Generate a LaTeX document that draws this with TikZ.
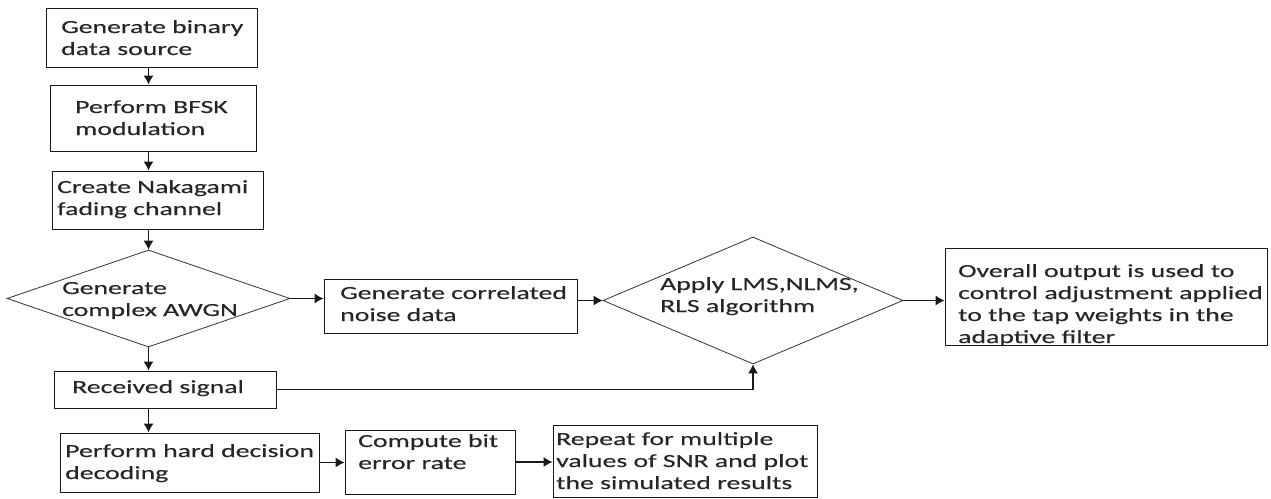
\documentclass[tikz,border=0pt]{standalone}
\usepackage{fontspec}
\setmainfont[FakeStretch=1.5,FakeBold=0.25]{Carlito}
\usetikzlibrary{shapes.geometric,arrows.meta}
\newcommand{\mlines}[1]{\begin{tabular}[t]{@{}l@{}}#1\end{tabular}}
\begin{document}
\begin{tikzpicture}[x=1pt,y=-1pt,
  font=\fontsize{18.5}{22}\selectfont,
  box/.style={draw=black!90, line width=1pt, rectangle, inner sep=0pt},
  dia/.style={draw=black!80, line width=0.8pt, diamond, inner sep=0pt},
  lbl/.style={anchor=base west, inner sep=0pt, text=black!85},
  arr/.style={draw=black!90, line width=1.1pt, -{Latex[length=9pt,width=10pt]}}]
\useasboundingbox (0,0) rectangle (1271,498);

\node[box, minimum width=211pt, minimum height=59pt] (b1) at (151.5,37.5) {};
\node[box, minimum width=206pt, minimum height=66pt] (b2) at (153,118) {};
\node[box, minimum width=211pt, minimum height=58pt] (b3) at (157.5,200) {};
\node[dia, minimum width=283pt, minimum height=97pt] (d1) at (148.5,298.5) {};
\node[box, minimum width=253pt, minimum height=54pt] (corr) at (450.5,306) {};
\node[dia, minimum width=300pt, minimum height=127pt] (d2) at (753,300.5) {};
\node[box, minimum width=322pt, minimum height=97pt] (ov) at (1106,296.5) {};
\node[box, minimum width=222pt, minimum height=37pt] (recv) at (165,389.5) {};
\node[box, minimum width=259pt, minimum height=59pt] (hard) at (189.5,462.5) {};
\node[box, minimum width=170pt, minimum height=64pt] (comp) at (430,462) {};
\node[box, minimum width=264pt, minimum height=72pt] (rep) at (685,461) {};

\node[lbl, xshift=-90.5pt, yshift=4.5pt] (t1) at (b1.center) {\mlines{Generate binary\\data source}};
\node[lbl, xshift=-78pt, yshift=5pt] (t2) at (b2.center) {\mlines{Perform BFSK\\modulation}};
\node[lbl, xshift=-100.5pt, yshift=7pt] (t3) at (b3.center) {\mlines{Create Nakagami\\fading channel}};
\node[lbl, xshift=-86.5pt, yshift=4.5pt] (t4) at (d1.center) {\mlines{Generate\\complex AWGN}};
\node[lbl, xshift=-110.5pt, yshift=7pt] (t5) at (corr.center) {\mlines{Generate correlated\\noise data}};
\node[lbl, xshift=-93pt, yshift=10.5pt] (t6) at (d2.center) {\mlines{Apply LMS,NLMS,\\RLS algorithm}};
\node[lbl, xshift=-148pt, yshift=19.5pt] (t7) at (ov.center) {\mlines{Overall output is used to\\control adjustment applied\\to the tap weights in the\\adaptive filter}};
\node[lbl, xshift=-93pt, yshift=-3.5pt] (t8) at (recv.center) {Received signal};
\node[lbl, xshift=-124.5pt, yshift=5.5pt] (t9) at (hard.center) {\mlines{Perform hard decision\\decoding}};
\node[lbl, xshift=-72pt, yshift=15pt] (t10) at (comp.center) {\mlines{Compute bit\\error rate}};
\node[lbl, xshift=-129pt, yshift=16pt] (t11) at (rep.center) {\mlines{Repeat for multiple\\values of SNR and plot\\the simulated results}};

\draw[arr] (b1.south -| d1.center) -- (b2.north -| d1.center);
\draw[arr] (b2.south -| d1.center) -- (b3.north -| d1.center);
\draw[arr] (b3.south -| d1.center) -- (d1.north);
\draw[arr] (d1.east) -- (d1.east -| corr.west);
\draw[arr] (corr.east |- d2.west) -- (d2.west);
\draw[arr] (d2.east) -- (d2.east -| ov.west);
\draw[arr] (d1.south) -- (recv.north -| d1.center);
\draw[arr] (recv.east) -| (d2.south);
\draw[arr] (recv.south -| d1.center) -- (hard.north -| d1.center);
\draw[arr] (hard.east) -- (hard.east -| comp.west);
\draw[arr] (comp.east) -- (comp.east -| rep.west);
\end{tikzpicture}
\end{document}
